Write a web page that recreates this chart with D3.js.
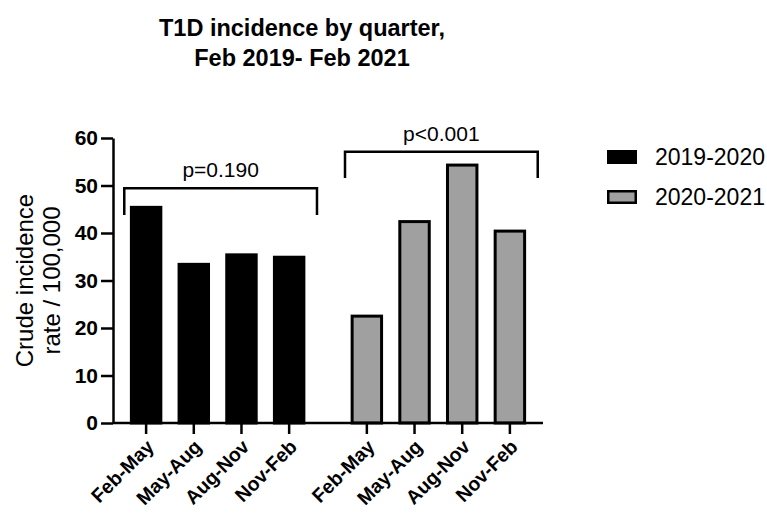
<!DOCTYPE html>
<html>
<head>
<meta charset="utf-8">
<script src="https://cdn.jsdelivr.net/npm/d3@7"></script>
<style>
  body { margin: 0; background: #fff; }
  text { font-family: "Liberation Sans", Arial, sans-serif; fill: #000; }
</style>
</head>
<body>
<svg id="chart" width="767" height="517"></svg>
<script>
// values
const quarters = ["Feb-May", "May-Aug", "Aug-Nov", "Nov-Feb"];
const seasons = ["2019-2020", "2020-2021"];
const rate2019 = [45.4, 33.4, 35.4, 34.9];
const rate2020 = [22.5, 42.4, 54.3, 40.4];
const pLabels = ["p=0.190", "p<0.001"];
const yTicks = [0, 10, 20, 30, 40, 50, 60];

const series = [
  { season: seasons[0], values: rate2019, fill: "#000" },
  { season: seasons[1], values: rate2020, fill: "#a0a0a0" }
];

// bracket levels in data units (top, drop)
const brackets = [[49.4, 43.8], [57.1, 51.6]];

const svg = d3.select("#chart");

const y = d3.scaleLinear().domain([0, 60]).range([423, 138]);
const xGroup = d3.scaleBand()
    .domain(seasons)
    .range([113, 543])
    .paddingInner(0.136)
    .paddingOuter(0.042);
const xInner = d3.scaleBand()
    .domain(quarters)
    .range([0, xGroup.bandwidth()])
    .paddingInner(0.33)
    .paddingOuter(0.165);

// title
svg.append("text")
    .attr("x", 302).attr("y", 36)
    .attr("text-anchor", "middle")
    .style("font-size", "23.5px").style("font-weight", "bold")
    .selectAll("tspan")
    .data(["T1D incidence by quarter,", "Feb 2019- Feb 2021"])
    .join("tspan")
      .attr("x", 302)
      .attr("dy", (d, i) => i ? 30 : 0)
      .text(d => d);

// bars
series.forEach(s => {
  const g = svg.append("g").attr("transform", `translate(${xGroup(s.season)},0)`);
  g.selectAll("rect")
    .data(s.values)
    .join("rect")
      .attr("x", (d, i) => xInner(quarters[i]) + 1.25)
      .attr("y", d => y(d))
      .attr("width", xInner.bandwidth() - 2.5)
      .attr("height", d => y(0) - y(d))
      .attr("fill", s.fill)
      .attr("stroke", "#000")
      .attr("stroke-width", 3);

  // x ticks and labels
  const ax = g.append("g")
      .attr("transform", `translate(0,${y(0)})`)
      .call(d3.axisBottom(xInner).tickSize(11).tickSizeOuter(0));
  ax.select(".domain").remove();
  ax.selectAll(".tick line").attr("stroke", "#000").attr("stroke-width", 2.5);
  ax.selectAll(".tick text")
      .attr("y", 0).attr("dy", 0)
      .attr("transform", "translate(9,25) rotate(-45)")
      .attr("text-anchor", "end")
      .style("font-size", "19.5px").style("font-weight", "bold")
      .attr("fill", "#000");
});

// x axis baseline
svg.append("line")
    .attr("x1", xGroup.range()[0]).attr("x2", xGroup.range()[1])
    .attr("y1", y(0)).attr("y2", y(0))
    .attr("stroke", "#000").attr("stroke-width", 2.5);

// y axis
const yAxis = svg.append("g")
    .attr("transform", `translate(${xGroup.range()[0]},0)`)
    .call(d3.axisLeft(y).tickValues(yTicks).tickSize(12).tickSizeOuter(0).tickPadding(3));
yAxis.select(".domain").attr("stroke", "#000").attr("stroke-width", 2.5);
yAxis.selectAll(".tick line").attr("stroke", "#000").attr("stroke-width", 2.5);
yAxis.selectAll(".tick text")
    .style("font-size", "21px").style("font-weight", "bold")
    .attr("fill", "#000");

// y axis title
svg.append("text")
    .attr("transform", `translate(33,${(y(0) + y(60)) / 2}) rotate(-90)`)
    .attr("text-anchor", "middle")
    .style("font-size", "24px")
    .selectAll("tspan")
    .data(["Crude incidence", "rate / 100,000"])
    .join("tspan")
      .attr("x", 0)
      .attr("dy", (d, i) => i ? 27 : 0)
      .text(d => d);

// significance brackets
seasons.forEach((s, i) => {
  const x0 = xGroup(s) + 2;
  const x1 = xGroup(s) + xGroup.bandwidth() + 4;
  const [top, drop] = brackets[i];
  svg.append("path")
      .attr("d", `M${x0},${y(drop)}V${y(top)}H${x1}V${y(drop)}`)
      .attr("fill", "none")
      .attr("stroke", "#000")
      .attr("stroke-width", 2.5);
  svg.append("text")
      .attr("x", (x0 + x1) / 2)
      .attr("y", y(top) - 11)
      .attr("text-anchor", "middle")
      .style("font-size", "21px")
      .text(pLabels[i]);
});

// legend
const legend = svg.append("g").attr("transform", "translate(607,150)");
series.forEach((s, i) => {
  const row = legend.append("g").attr("transform", `translate(0,${i * 40})`);
  row.append("rect")
      .attr("x", 1.25).attr("y", 1.25)
      .attr("width", 27.5).attr("height", 11.5)
      .attr("fill", s.fill)
      .attr("stroke", "#000").attr("stroke-width", 2.5);
  row.append("text")
      .attr("x", 48).attr("y", 7).attr("dy", "0.35em")
      .style("font-size", "23px")
      .text(s.season);
});
</script>
</body>
</html>
